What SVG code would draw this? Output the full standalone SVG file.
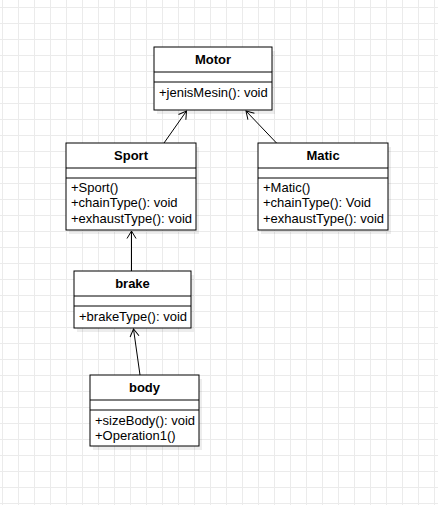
<svg xmlns="http://www.w3.org/2000/svg" width="438" height="505" viewBox="0 0 438 505">
<defs>
<pattern id="grid" x="2" y="7" width="16" height="16" patternUnits="userSpaceOnUse">
<path d="M0,0.5 H16 M0.5,0 V16" fill="none" stroke="#ebebeb" stroke-width="1"/>
</pattern>
<marker id="open" markerUnits="userSpaceOnUse" markerWidth="12" markerHeight="12" viewBox="-10 -6 12 12" refX="0" refY="0" orient="auto" overflow="visible">
<path d="M-7.5,-4.5 L0,0 L-7.5,4.5" fill="none" stroke="#000" stroke-width="1"/>
</marker>
</defs>
<style>
.box{fill:#fff;stroke:#000;stroke-width:1}
.shadow{fill:#000;fill-opacity:0.07}
.div{stroke:#000;stroke-width:1}
.title{font-family:"Liberation Sans",Arial,sans-serif;font-size:13px;font-weight:bold;text-anchor:middle;fill:#000}
.m{font-family:"Liberation Sans",Arial,sans-serif;font-size:13px;fill:#000}
.conn{fill:none;stroke:#000;stroke-width:1;marker-end:url(#open)}
</style>
<rect width="438" height="505" fill="#fff"/>
<rect width="438" height="505" fill="url(#grid)"/>

<g id="connectors">
<line class="conn" x1="164" y1="143" x2="186.5" y2="111"/>
<line class="conn" x1="276.5" y1="143" x2="246" y2="111"/>
<line class="conn" x1="131.5" y1="271" x2="131.5" y2="231"/>
<line class="conn" x1="140" y1="375" x2="133.5" y2="329"/>
</g>

<g id="Motor">
<rect class="shadow" x="157" y="51" width="118" height="63"/>
<rect class="box" x="154" y="47" width="118" height="63"/>
<line class="div" x1="154" y1="72" x2="272" y2="72"/>
<line class="div" x1="154" y1="82" x2="272" y2="82"/>
<text class="title" x="213" y="63.5">Motor</text>
<text class="m" x="159" y="96.5">+jenisMesin(): void</text>
</g>

<g id="Sport">
<rect class="shadow" x="69" y="147" width="130" height="87"/>
<rect class="box" x="66" y="143" width="130" height="87"/>
<line class="div" x1="66" y1="168" x2="196" y2="168"/>
<line class="div" x1="66" y1="178" x2="196" y2="178"/>
<text class="title" x="131" y="160">Sport</text>
<text class="m" x="71" y="191.7">+Sport()</text>
<text class="m" x="71" y="207.2">+chainType(): void</text>
<text class="m" x="71" y="222.7">+exhaustType(): void</text>
</g>

<g id="Matic">
<rect class="shadow" x="261" y="147" width="130" height="87"/>
<rect class="box" x="258" y="143" width="130" height="87"/>
<line class="div" x1="258" y1="168" x2="388" y2="168"/>
<line class="div" x1="258" y1="178" x2="388" y2="178"/>
<text class="title" x="323" y="160">Matic</text>
<text class="m" x="263" y="191.7">+Matic()</text>
<text class="m" x="263" y="207.2">+chainType(): Void</text>
<text class="m" x="263" y="222.7">+exhaustType(): void</text>
</g>

<g id="brake">
<rect class="shadow" x="77" y="275" width="117" height="57"/>
<rect class="box" x="74" y="271" width="117" height="57"/>
<line class="div" x1="74" y1="296" x2="191" y2="296"/>
<line class="div" x1="74" y1="306" x2="191" y2="306"/>
<text class="title" x="132.5" y="287.5">brake</text>
<text class="m" x="79" y="320.7">+brakeType(): void</text>
</g>

<g id="body">
<rect class="shadow" x="93" y="379" width="109" height="71"/>
<rect class="box" x="90" y="375" width="109" height="71"/>
<line class="div" x1="90" y1="400" x2="199" y2="400"/>
<line class="div" x1="90" y1="410" x2="199" y2="410"/>
<text class="title" x="144.5" y="391.5">body</text>
<text class="m" x="95" y="424.7">+sizeBody(): void</text>
<text class="m" x="95" y="440.2">+Operation1()</text>
</g>
</svg>
